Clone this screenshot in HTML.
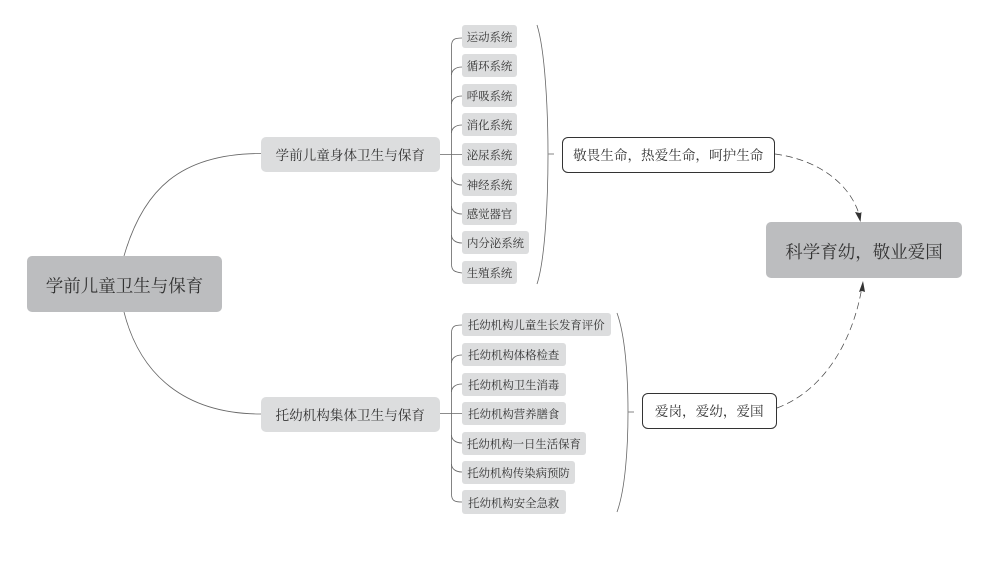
<!DOCTYPE html>
<html lang="zh">
<head>
<meta charset="utf-8">
<style>
html,body{margin:0;padding:0;background:#fff;}
#c{position:relative;width:990px;height:564px;overflow:hidden;background:#fff;font-family:"Liberation Serif","Noto Serif CJK SC",serif;color:#333;filter:blur(0.3px);}
svg{position:absolute;left:0;top:0;}
.n{position:absolute;box-sizing:border-box;display:flex;align-items:center;justify-content:center;white-space:nowrap;line-height:1;}
.r{background:#bcbdbf;border-radius:5px;font-size:17.5px;padding-top:5px;}
.b{background:#dcddde;border-radius:5px;font-size:13.6px;padding-top:2px;}
.l{background:#dcddde;border-radius:3px;font-size:11.4px;padding-top:5px;}
.o{background:#fff;border:1.7px solid #333;border-radius:6px;font-size:13.6px;padding-top:2px;}
</style>
</head>
<body>
<div id="c">
<svg width="990" height="564" viewBox="0 0 990 564" fill="none" stroke="#666" stroke-width="0.8">
  <path d="M124 256C143 190 180 153.500 261 153.500"/>
  <path d="M124 312C140 375 185 414 261 414"/>
  <path d="M439 154.500H462"/>
  <path d="M439 413.500H462"/>
  <path d="M462 38C455 38 451.500 39 451.500 46V264C451.500 271 455 272 462 273"/>
  <path d="M462 67C456 67 451.500 70 451.500 75"/>
  <path d="M462 96C456 96 451.500 99 451.500 104"/>
  <path d="M462 125C456 125 451.500 128 451.500 133"/>
  <path d="M462 185C456 185 451.500 182 451.500 177"/>
  <path d="M462 214C456 214 451.500 211 451.500 206"/>
  <path d="M462 243C456 243 451.500 240 451.500 235"/>
  <path d="M462 325C455 325 451.500 326 451.500 333V494C451.500 501 455 502 462 502"/>
  <path d="M462 355C456 355 451.500 358 451.500 363"/>
  <path d="M462 384C456 384 451.500 387 451.500 392"/>
  <path d="M462 443C456 443 451.500 440 451.500 435"/>
  <path d="M462 472C456 472 451.500 469 451.500 464"/>
  <path d="M537 25C545 50 548 110 548 155C548 200 545 260 537 284"/>
  <path d="M617 313C625 335 628 375 628 412C628 450 625 490 617 512"/>
  <path d="M548.500 154H554"/>
  <path d="M628.500 412H634"/>
  <g stroke="#444" stroke-dasharray="7 4" stroke-width="0.7">
    <path d="M775 154C820 160 850 185 859 214"/>
    <path d="M777 408C825 390 853 340 862 287"/>
  </g>
  <g fill="#333" stroke="none">
    <polygon points="860.500,222 855,212 860,213 861.500,212"/>
    <polygon points="863,281 859,292 862,291 865,292"/>
  </g>
</svg>

<div class="n r" style="left:27px;top:256px;width:195px;height:56px;">学前儿童卫生与保育</div>
<div class="n r" style="left:766px;top:222px;width:196px;height:56px;">科学育幼&#xFF0C;敬业爱国</div>

<div class="n b" style="left:261px;top:137px;width:178.500px;height:35px;">学前儿童身体卫生与保育</div>
<div class="n b" style="left:261px;top:397px;width:178.500px;height:35px;">托幼机构集体卫生与保育</div>

<div class="n o" style="left:562px;top:137px;width:212.500px;height:36px;">敬畏生命&#xFF0C;热爱生命&#xFF0C;呵护生命</div>
<div class="n o" style="left:641.500px;top:392.500px;width:135.500px;height:36px;">爱岗&#xFF0C;爱幼&#xFF0C;爱国</div>

<div class="n l" style="left:462px;top:25px;width:55px;height:23px;">运动系统</div>
<div class="n l" style="left:462px;top:54px;width:55px;height:23px;">循环系统</div>
<div class="n l" style="left:462px;top:84px;width:55px;height:23px;">呼吸系统</div>
<div class="n l" style="left:462px;top:113px;width:55px;height:23px;">消化系统</div>
<div class="n l" style="left:462px;top:143px;width:55px;height:23px;">泌尿系统</div>
<div class="n l" style="left:462px;top:173px;width:55px;height:23px;">神经系统</div>
<div class="n l" style="left:462px;top:202px;width:55px;height:23px;">感觉器官</div>
<div class="n l" style="left:462px;top:231px;width:67px;height:23px;">内分泌系统</div>
<div class="n l" style="left:462px;top:261px;width:55px;height:23px;">生殖系统</div>

<div class="n l" style="left:462px;top:313px;width:148.500px;height:23px;">托幼机构儿童生长发育评价</div>
<div class="n l" style="left:462px;top:343px;width:103.500px;height:23px;">托幼机构体格检查</div>
<div class="n l" style="left:462px;top:373px;width:103.500px;height:23px;">托幼机构卫生消毒</div>
<div class="n l" style="left:462px;top:402px;width:103.500px;height:23px;">托幼机构营养膳食</div>
<div class="n l" style="left:462px;top:432px;width:124px;height:23px;">托幼机构一日生活保育</div>
<div class="n l" style="left:462px;top:461px;width:113px;height:23px;">托幼机构传染病预防</div>
<div class="n l" style="left:462px;top:490px;width:103.500px;height:23.500px;">托幼机构安全急救</div>
</div>
</body>
</html>
